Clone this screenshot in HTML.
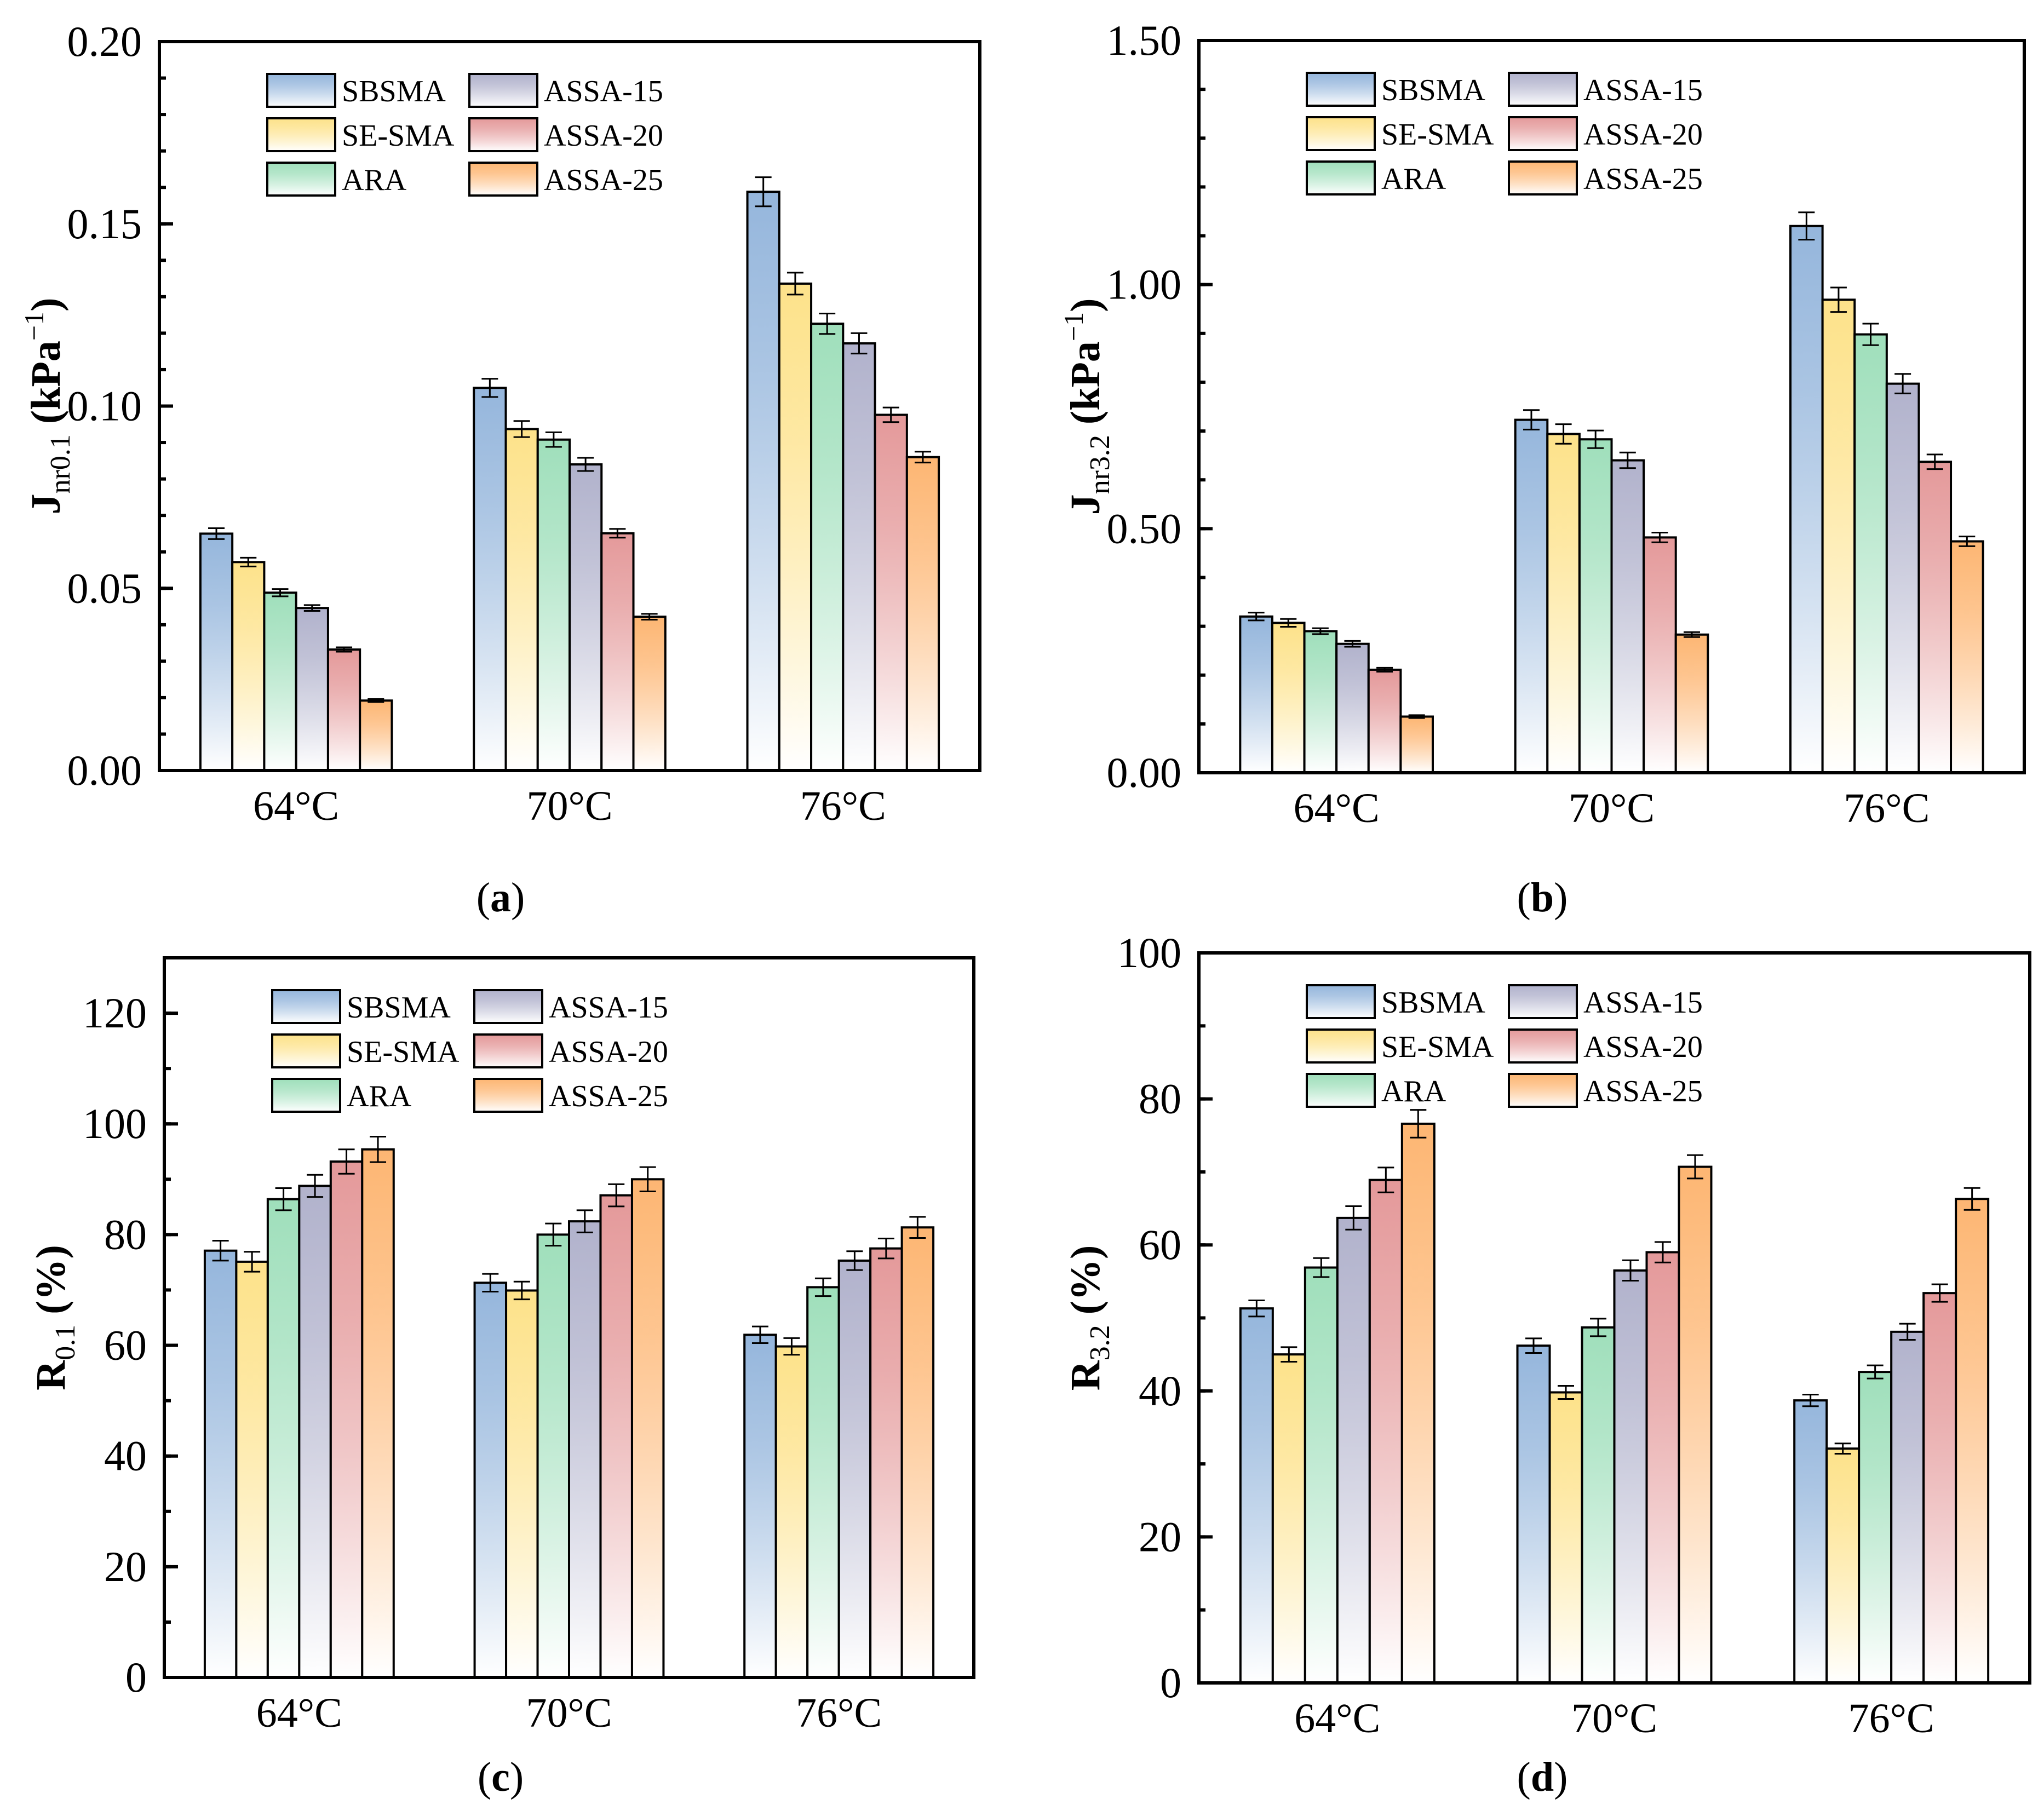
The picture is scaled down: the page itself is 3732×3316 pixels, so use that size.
<!DOCTYPE html>
<html><head><meta charset="utf-8"><style>
html,body{margin:0;padding:0;background:#fff}
svg{display:block}
text{font-family:"Liberation Serif","Times New Roman",serif;fill:#000}
</style></head><body>
<svg id="fig" xmlns="http://www.w3.org/2000/svg" width="3732" height="3316" viewBox="0 0 3732 3316">
<defs id="defs"></defs>
</svg>
<script>
const categories = ["64°C","70°C","76°C"];
const seriesNames = ["SBSMA","SE-SMA","ARA","ASSA-15","ASSA-20","ASSA-25"];
const seriesColors = ["#95b6dc","#fde28a","#9fdfbb","#b1b2cc","#e4999a","#fdb673"];
// panel (a) Jnr0.1 [64,70,76] per series
const jnr01 = [[0.065,0.105,0.1588],[0.0572,0.0937,0.1336],[0.0488,0.0908,0.1226],[0.0446,0.0840,0.1172],[0.0332,0.0651,0.0976],[0.0192,0.0422,0.0860]];
const jnr01Err = [[0.0015,0.0025,0.004],[0.0012,0.0022,0.003],[0.001,0.002,0.0028],[0.0008,0.0018,0.0028],[0.0006,0.0012,0.002],[0.0004,0.0008,0.0015]];
// panel (b) Jnr3.2
const jnr32 = [[0.320,0.723,1.120],[0.307,0.694,0.969],[0.290,0.683,0.898],[0.264,0.640,0.797],[0.211,0.482,0.637],[0.115,0.283,0.474]];
const jnr32Err = [[0.008,0.02,0.028],[0.008,0.02,0.025],[0.006,0.018,0.022],[0.006,0.016,0.02],[0.004,0.01,0.015],[0.003,0.005,0.01]];
// panel (c) R0.1
const r01 = [[77.1,71.3,61.9],[75.1,69.9,59.8],[86.4,80.0,70.5],[88.8,82.4,75.3],[93.2,87.1,77.5],[95.4,90.0,81.3]];
const r01Err = [[1.8,1.6,1.5],[1.8,1.6,1.5],[2.0,2.0,1.6],[2.0,2.0,1.7],[2.2,2.0,1.8],[2.3,2.2,1.9]];
// panel (d) R3.2
const r32 = [[51.3,46.2,38.7],[45.0,39.8,32.1],[56.9,48.7,42.6],[63.7,56.5,48.1],[68.9,59.0,53.4],[76.6,70.7,66.3]];
const r32Err = [[1.1,1.0,0.8],[1.0,0.9,0.7],[1.3,1.2,0.9],[1.6,1.4,1.1],[1.7,1.4,1.2],[1.9,1.6,1.5]];
const yTicksA = [0,0.05,0.10,0.15,0.20];
const yTickLabelsA = ["0.00","0.05","0.10","0.15","0.20"];
const yTicksB = [0,0.5,1.0,1.5];
const yTickLabelsB = ["0.00","0.50","1.00","1.50"];
const yTicksC = [0,20,40,60,80,100,120];
const yTicksD = [0,20,40,60,80,100];

const NS = "http://www.w3.org/2000/svg";
const svg = document.getElementById("fig");
const defs = document.getElementById("defs");
function el(tag, attrs, parent){const e=document.createElementNS(NS,tag);for(const k in attrs)e.setAttribute(k,attrs[k]);(parent||svg).appendChild(e);return e;}

seriesColors.forEach((c,i)=>{
  const g=el("linearGradient",{id:"grad"+i,x1:"0",y1:"0",x2:"0",y2:"1"},defs);
  el("stop",{offset:"0",  "stop-color":c},g);
  el("stop",{offset:"0.3","stop-color":c,"stop-opacity":"0.8"},g);
  el("stop",{offset:"1","stop-color":"#ffffff"},g);
});

function panel(cfg){
  const {L,R,T,B,ymax,ticks,tickLabels,minor,vals,errs,name,ylab,sub,sup,panelLabel,labX,labY} = cfg;
  const g = el("g",{});
  
  
  const W=R-L;
  const y = v => B - (v/ymax)*(B-T);
  const slot = W/3;
  const bw = slot*0.7/6;
  vals.forEach((sv,si)=>{
    sv.forEach((v,ci)=>{
      const cx = L + slot*(ci+0.5);
      const x0 = cx - 3*bw + si*bw;
      const r = el("rect",{x:x0,y:y(v),width:bw,height:B-y(v),fill:"url(#grad"+si+")",stroke:"#000","stroke-width":4},g);
      
      
      const e = errs[si][ci];
      const xm = x0+bw/2;
      const eb = el("path",{d:`M${xm},${y(v+e)}V${y(v-e)}M${xm-15},${y(v+e)}H${xm+15}M${xm-15},${y(v-e)}H${xm+15}`,stroke:"#000","stroke-width":3,fill:"none"},g);
      
      
    });
  });
  const fr = el("rect",{x:L,y:T,width:W,height:B-T,fill:"none",stroke:"#000","stroke-width":6},g);
  
  
  for(let v=0; v<=ymax+1e-9; v+=minor){
    const yy=y(v);
    el("line",{x1:L,x2:L+12,y1:yy,y2:yy,stroke:"#000","stroke-width":6},g);
  }
  ticks.forEach((v,i)=>{
    const yy=y(v);
    el("line",{x1:L,x2:L+25,y1:yy,y2:yy,stroke:"#000","stroke-width":6},g);
    const t=el("text",{x:L-32,y:yy+26,"text-anchor":"end","font-size":78},g);
    t.textContent = tickLabels ? tickLabels[i] : String(v);
    
    
  });
  categories.forEach((c,ci)=>{
    const t=el("text",{x:L+slot*(ci+0.5),y:B+90,"text-anchor":"middle","font-size":76},g);
    t.textContent=c;
    
    
  });
  const yt=el("text",{transform:`translate(${L-182},${(T+B)/2}) rotate(-90)`,"text-anchor":"middle","font-size":76,"font-weight":"bold"},g);
  
  
  const s1=el("tspan",{},yt); s1.textContent=ylab;
  const s2=el("tspan",{"font-size":52,"font-weight":"normal",dy:18},yt); s2.textContent=sub;
  const s3=el("tspan",{dy:-18},yt); s3.textContent=sup? " (kPa":" (%)";
  if(sup){const s4=el("tspan",{"font-size":50,"font-weight":"normal",dy:-30},yt); s4.textContent="−1";
          const s5=el("tspan",{dy:30},yt); s5.textContent=")";}
  const lg=el("g",{},g);
  
  
  seriesNames.forEach((n,i)=>{
    const col=Math.floor(i/3), row=i%3;
    const bx=L+197+col*369, by=T+59+row*81;
    el("rect",{x:bx,y:by,width:124,height:60,fill:"url(#grad"+i+")",stroke:"#000","stroke-width":4},lg);
    const t=el("text",{x:bx+136,y:by+50,"font-size":56},lg);
    t.textContent=n;
    
    
  });
  const pl=el("text",{x:labX,y:labY,"text-anchor":"middle","font-size":76},g);
  
  
  const p1=el("tspan",{},pl);p1.textContent="(";
  const p2=el("tspan",{"font-weight":"bold"},pl);p2.textContent=panelLabel;
  const p3=el("tspan",{},pl);p3.textContent=")";
}

panel({L:291,R:1789,T:76,B:1407,ymax:0.20,ticks:yTicksA,tickLabels:yTickLabelsA,minor:0.01,vals:jnr01,errs:jnr01Err,name:"panel-a-jnr01",ylab:"J",sub:"nr0.1",sup:true,panelLabel:"a",labX:914,labY:1664});
panel({L:2189,R:3696,T:74,B:1411,ymax:1.5,ticks:yTicksB,tickLabels:yTickLabelsB,minor:0.1,vals:jnr32,errs:jnr32Err,name:"panel-b-jnr32",ylab:"J",sub:"nr3.2",sup:true,panelLabel:"b",labX:2816,labY:1664});
panel({L:300,R:1778,T:1749,B:3063,ymax:130,ticks:yTicksC,tickLabels:null,minor:10,vals:r01,errs:r01Err,name:"panel-c-r01",ylab:"R",sub:"0.1",sup:false,panelLabel:"c",labX:914,labY:3270});
panel({L:2189,R:3706,T:1740,B:3073,ymax:100,ticks:yTicksD,tickLabels:null,minor:10,vals:r32,errs:r32Err,name:"panel-d-r32",ylab:"R",sub:"3.2",sup:false,panelLabel:"d",labX:2816,labY:3270});
</script>
</body></html>
